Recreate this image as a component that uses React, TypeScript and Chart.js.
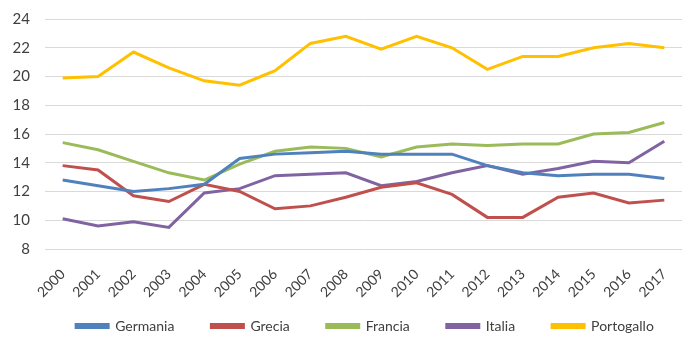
import React, { useEffect, useRef } from "react";
import { Chart, registerables } from "chart.js";
Chart.register(...registerables);

const years = ["2000","2001","2002","2003","2004","2005","2006","2007","2008","2009","2010","2011","2012","2013","2014","2015","2016","2017"];
const germania = [12.8, 12.4, 12.0, 12.2, 12.5, 14.3, 14.6, 14.7, 14.8, 14.6, 14.6, 14.6, 13.8, 13.3, 13.1, 13.2, 13.2, 12.9];
const grecia = [13.8, 13.5, 11.7, 11.3, 12.5, 12.0, 10.8, 11.0, 11.6, 12.3, 12.6, 11.8, 10.2, 10.2, 11.6, 11.9, 11.2, 11.4];
const francia = [15.4, 14.9, 14.1, 13.3, 12.8, 13.9, 14.8, 15.1, 15.0, 14.4, 15.1, 15.3, 15.2, 15.3, 15.3, 16.0, 16.1, 16.8];
const italia = [10.1, 9.6, 9.9, 9.5, 11.9, 12.2, 13.1, 13.2, 13.3, 12.4, 12.7, 13.3, 13.8, 13.2, 13.6, 14.1, 14.0, 15.5];
const portogallo = [19.9, 20.0, 21.7, 20.6, 19.7, 19.4, 20.4, 22.3, 22.8, 21.9, 22.8, 22.0, 20.5, 21.4, 21.4, 22.0, 22.3, 22.0];

const seriesNames = ["Germania", "Grecia", "Francia", "Italia", "Portogallo"];
const seriesColors = ["#4F81BD", "#C0504D", "#9BBB59", "#8064A2", "#FFC000"];

const LEGEND_PAD = 37;

const placeLegend = {
  id: "placeLegend",
  afterLayout(chart: any) {
    const lg = chart.legend;
    if (lg) {
      lg.left += 20;
      lg.right += 20;
      lg.top = 274;
      lg.bottom = chart.height;
      lg.height = lg.bottom - lg.top;
    }
  },
};

export default function App() {
  const ref = useRef<HTMLCanvasElement>(null);
  useEffect(() => {
    const data = [germania, grecia, francia, italia, portogallo];
    const chart = new Chart(ref.current!, {
      type: "line",
      data: {
        labels: years,
        datasets: data.map((d, i) => ({
          label: seriesNames[i],
          data: d,
          borderColor: seriesColors[i],
          backgroundColor: seriesColors[i],
          borderWidth: 3,
          pointRadius: 0,
          tension: 0,
        })),
      },
      plugins: [placeLegend],
      options: {
        animation: false,
        responsive: true,
        maintainAspectRatio: false,
        layout: { padding: { top: 0, right: 9, left: 0, bottom: 0 } },
        plugins: {
          tooltip: { enabled: false },
          legend: {
            position: "bottom",
            maxHeight: 36,
            labels: {
              boxWidth: 32,
              boxHeight: 3,
              padding: LEGEND_PAD,
              color: "#404040",
              font: { family: "Lato", size: 14 },
            },
          },
        },
        scales: {
          x: {
            offset: true,
            grid: { display: false },
            border: { display: false },
            afterFit: (scale: any) => {
              scale.height = 54;
              scale.paddingRight = 0;
            },
            ticks: {
              maxRotation: 45,
              minRotation: 45,
              autoSkip: false,
              padding: 9,
              color: "#404040",
              font: { family: "Lato", size: 14 },
            },
          },
          y: {
            min: 8,
            max: 24,
            grid: { color: "#d9d9d9", drawTicks: false },
            border: { display: false },
            afterFit: (scale: any) => {
              scale.width = 37;
              scale.paddingTop = 11;
              scale.paddingBottom = 0;
            },
            ticks: {
              stepSize: 2,
              autoSkip: false,
              padding: 15,
              color: "#404040",
              font: { family: "Lato", size: 15 },
            },
          },
        },
      },
    });
    return () => chart.destroy();
  }, []);
  return (
    <div style={{ width: 683, height: 331 }}>
      <canvas ref={ref} />
    </div>
  );
}
